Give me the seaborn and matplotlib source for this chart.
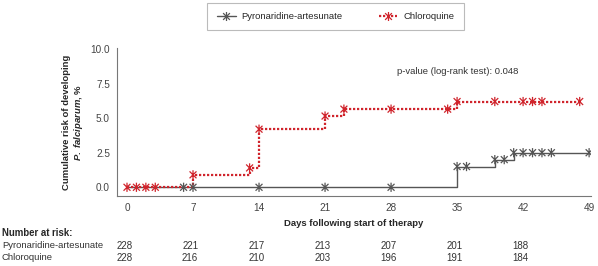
import matplotlib
matplotlib.use("Agg")
import matplotlib.pyplot as plt
import matplotlib.transforms as mtransforms
from matplotlib.path import Path
from matplotlib.lines import Line2D
import seaborn as sns
import pandas as pd

# Kaplan-Meier steps (day, cumulative risk %)
pyr_days = [0, 35, 39, 41, 49]
pyr_risk = [0.0, 1.5, 2.0, 2.5, 2.5]
chl_days = [0, 7, 13, 14, 21, 23, 35, 48]
chl_risk = [0.0, 0.9, 1.4, 4.2, 5.15, 5.65, 6.2, 6.2]

# censoring marks
pyr_cens_days = [6, 7, 14, 21, 28, 35, 36, 39, 40, 41, 42, 43, 44, 45, 49]
pyr_cens_risk = [0, 0, 0, 0, 0, 1.5, 1.5, 2.0, 2.0, 2.5, 2.5, 2.5, 2.5, 2.5, 2.5]
chl_cens_days = [0, 1, 2, 3, 7, 13, 14, 21, 23, 28, 34, 35, 39, 42, 43, 44, 48]
chl_cens_risk = [0, 0, 0, 0, 0.9, 1.4, 4.2, 5.15, 5.65, 5.65, 5.65, 6.2, 6.2, 6.2, 6.2, 6.2, 6.2]

# number at risk table
risk_days = [0, 7, 14, 21, 28, 35, 42]
pyr_at_risk = [228, 221, 217, 213, 207, 201, 188]
chl_at_risk = [228, 216, 210, 203, 196, 191, 184]

groups = ["Pyronaridine-artesunate", "Chloroquine"]
colors = {"Pyronaridine-artesunate": "#555555", "Chloroquine": "#d0242c"}

sns.set_style("white")
plt.rcParams["font.family"] = ["Liberation Sans", "DejaVu Sans"]
plt.rcParams["mathtext.fontset"] = "custom"
plt.rcParams["mathtext.it"] = "Liberation Sans:italic:bold"
plt.rcParams["mathtext.rm"] = "Liberation Sans:bold"

# asterisk marker: vertical bar plus two diagonals
star = Path([(0, -1), (0, 1), (-0.75, -0.75), (0.75, 0.75), (-0.75, 0.75), (0.75, -0.75)],
            [Path.MOVETO, Path.LINETO, Path.MOVETO, Path.LINETO, Path.MOVETO, Path.LINETO])

fig = plt.figure(figsize=(5.98, 2.66), dpi=100)
ax = fig.add_axes([117 / 598, 70 / 266, 474 / 598, 148 / 266])

pyr_df = pd.DataFrame({"day": pyr_days, "risk": pyr_risk})
chl_df = pd.DataFrame({"day": chl_days, "risk": chl_risk})
pyr_c = pd.DataFrame({"day": pyr_cens_days, "risk": pyr_cens_risk})
chl_c = pd.DataFrame({"day": chl_cens_days, "risk": chl_cens_risk})

sns.lineplot(data=pyr_df, x="day", y="risk", ax=ax, color=colors[groups[0]],
             drawstyle="steps-post", lw=1.0, estimator=None, sort=False)
sns.scatterplot(data=pyr_c, x="day", y="risk", ax=ax, marker=star, s=44,
                facecolor="none", edgecolor=colors[groups[0]], linewidth=0.9, zorder=3)
sns.lineplot(data=chl_df, x="day", y="risk", ax=ax, color=colors[groups[1]],
             drawstyle="steps-post", lw=1.6, linestyle=(0, (1, 0.8)),
             estimator=None, sort=False)
sns.scatterplot(data=chl_c, x="day", y="risk", ax=ax, marker=star, s=44,
                facecolor="none", edgecolor=colors[groups[1]], linewidth=0.9, zorder=4)

ax.set_xlim(-1.06, 49.2)
ax.set_ylim(-0.63, 10.07)
ax.set_xticks(risk_days + [49])
ax.set_yticks([0, 2.5, 5.0, 7.5, 10.0])
ax.set_yticklabels(["0.0", "2.5", "5.0", "7.5", "10.0"])
ax.tick_params(axis="both", labelsize=7.2, labelcolor="#444444", length=3, width=0.6,
               direction="out", pad=2, color="#777777")
for side in ["top", "right"]:
    ax.spines[side].set_visible(False)
for side in ["left", "bottom"]:
    ax.spines[side].set_color("#777777")
    ax.spines[side].set_linewidth(0.8)

ax.set_xlabel("Days following start of therapy", fontsize=6.8, fontweight="bold", labelpad=4)
ax.set_ylabel("Cumulative risk of developing\n$\\mathit{P.\\ falciparum}$, %", fontsize=6.8,
              fontweight="bold", labelpad=4, linespacing=1.1)

ax.text(458 / 598, 1 - 72 / 266, "p-value (log-rank test): 0.048", transform=fig.transFigure,
        ha="center", va="center", fontsize=6.8, color="#333333")

# legend
handles = [
    Line2D([], [], color=colors[groups[0]], lw=1.0, marker=star, markersize=6.5, mew=0.9),
    Line2D([], [], color=colors[groups[1]], lw=1.6, linestyle=(0, (1, 0.8)), marker=star,
           markersize=6.5, mew=0.9),
]
leg = fig.legend(handles, groups, loc="center", bbox_to_anchor=(335.5 / 598, 1 - 16.5 / 266),
                 ncol=2, frameon=True, fancybox=False, fontsize=6.8, handlelength=2.0,
                 columnspacing=3.8, borderpad=1.0, handletextpad=0.6, borderaxespad=0)
leg.get_frame().set_edgecolor("#aaaaaa")
leg.get_frame().set_linewidth(0.8)

# number at risk table
trans = mtransforms.blended_transform_factory(ax.transData, fig.transFigure)
fig.text(2 / 598, 1 - 233 / 266, "Number at risk:", fontsize=6.9, fontweight="bold",
         va="center", ha="left")
fig.text(2 / 598, 1 - 246 / 266, groups[0], fontsize=6.8, va="center", ha="left",
         color="#333333")
fig.text(2 / 598, 1 - 258 / 266, groups[1], fontsize=6.8, va="center", ha="left",
         color="#333333")
for d, a, b in zip(risk_days, pyr_at_risk, chl_at_risk):
    ax.text(d - 0.3, 1 - 246 / 266, str(a), transform=trans, ha="center", va="center",
            fontsize=7.0, color="#333333")
    ax.text(d - 0.3, 1 - 258 / 266, str(b), transform=trans, ha="center", va="center",
            fontsize=7.0, color="#333333")

fig.savefig("out.png", dpi=100)
